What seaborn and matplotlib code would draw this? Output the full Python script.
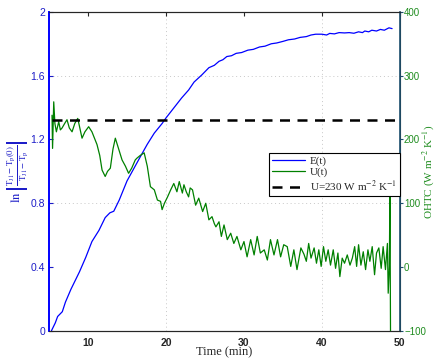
import matplotlib
matplotlib.use("Agg")
import matplotlib.pyplot as plt
import pandas as pd
import seaborn as sns
from matplotlib.lines import Line2D

# E(t), left axis
e_time = [5.3, 5.8, 6.1, 6.7, 7.1, 7.8, 8.4, 8.9, 9.7, 10.5, 11.4, 12.2, 12.8, 13.3,
          14.0, 15.0, 15.9, 16.8, 17.6, 18.5, 19.5, 20.0, 21.2, 22.0, 22.9, 23.6,
          24.6, 25.5, 26.2, 26.8, 27.3, 27.8, 28.4, 29.0, 29.7, 30.5, 31.2, 32.0,
          32.7, 33.5, 34.2, 35.0, 35.7, 36.5, 37.2, 38.0, 38.6, 39.2, 40.0, 40.6,
          41.0, 41.6, 42.2, 42.9, 43.5, 44.1, 44.7, 45.2, 45.5, 46.0, 46.4, 47.0,
          47.5, 48.0, 48.6, 49.0]
e_value = [0.0, 0.05, 0.09, 0.12, 0.18, 0.26, 0.32, 0.37, 0.46, 0.56, 0.63, 0.71, 0.74, 0.75,
           0.82, 0.94, 1.02, 1.10, 1.17, 1.24, 1.30, 1.335, 1.41, 1.46, 1.51, 1.56,
           1.605, 1.65, 1.665, 1.69, 1.70, 1.72, 1.725, 1.74, 1.745, 1.76, 1.765, 1.78,
           1.785, 1.80, 1.805, 1.815, 1.825, 1.83, 1.84, 1.845, 1.855, 1.86, 1.86, 1.855,
           1.865, 1.862, 1.87, 1.868, 1.87, 1.866, 1.875, 1.87, 1.88, 1.875, 1.885, 1.88,
           1.89, 1.885, 1.90, 1.895]

# U(t), right axis
u_time = [5.38, 5.45, 5.6, 5.75, 5.94, 6.24, 6.45, 6.67, 7.0, 7.3, 7.6, 7.95, 8.3, 8.68,
          9.0, 9.23, 9.6, 10.08, 10.5, 11.15, 11.5, 11.8, 12.2, 12.5, 12.86, 13.2,
          13.5, 13.9, 14.36, 14.8, 15.2, 15.6, 16.06, 16.3, 16.7, 17.2, 17.6, 18.0,
          18.5, 18.9, 19.3, 19.5, 19.8, 20.2, 20.6, 21.0, 21.4, 21.7, 22.1, 22.3,
          22.6, 22.9, 23.1, 23.4, 23.8, 24.2, 24.7, 25.1, 25.5, 25.9, 26.2, 26.4,
          26.8, 27.1, 27.44, 27.86, 28.3, 28.7, 29.1, 29.6, 30.0, 30.4, 30.86, 31.3,
          31.7, 32.1, 32.6, 33.0, 33.4, 33.85, 34.3, 34.7, 35.1, 35.55, 36.0, 36.4,
          36.8, 37.3, 37.7, 38.0, 38.3, 38.6, 39.0, 39.3, 39.6, 39.9, 40.2, 40.5,
          40.8, 41.1, 41.45, 41.75, 42.05, 42.3, 42.6, 42.9, 43.25, 43.6, 43.9, 44.2,
          44.45, 44.7, 45.0, 45.3, 45.6, 45.9, 46.15, 46.45, 46.75, 47.0, 47.3, 47.6,
          47.85, 48.15, 48.4, 48.5, 48.65, 48.72, 48.8]
u_value = [238, 186, 259, 225, 212, 228, 215, 218, 225, 231, 218, 212, 225, 233,
           215, 202, 212, 220, 212, 192, 175, 152, 142, 150, 155, 185,
           202, 186, 168, 158, 147, 155, 168, 171, 175, 179, 158, 126,
           121, 105, 103, 90, 100, 110, 121, 131, 118, 134, 116, 129,
           118, 110, 124, 121, 97, 108, 87, 100, 74, 79, 68, 63,
           71, 48, 66, 43, 53, 37, 48, 27, 40, 16, 43, 19,
           48, 22, 27, 11, 43, 19, 43, 16, 35, 32, 1, 27,
           -4, 30, 20, 9, 37, 14, 30, 6, 27, 1, 32, 9,
           27, 3, 27, -2, 22, -15, 14, 6, 19, 3, 14, 32,
           1, 35, 3, 24, -4, 27, 9, 32, -12, 22, 30, -2,
           32, -4, 37, -41, 1, 125, -110]

u_ref = 230

e_df = pd.DataFrame({"Time": e_time, "E": e_value})
u_df = pd.DataFrame({"Time": u_time, "U": u_value})

sns.set_style("white")
plt.rcParams["font.family"] = ["Liberation Sans", "DejaVu Sans"]
plt.rcParams["mathtext.fontset"] = "stix"
plt.rcParams["axes.grid"] = False
plt.rcParams["grid.alpha"] = 0.0

blue = "#0000ff"
green = "#008000"
tick_blue = "#1c1cc8"
tick_green = "#1e8c1e"
dark = "#1d4f6e"

fig = plt.figure(figsize=(4.38, 3.6), dpi=100)
ax1 = fig.add_axes([0.112, 0.081, 0.801, 0.886])
ax2 = ax1.twinx()

# Left axis
sns.lineplot(e_df, x="Time", y="E", ax=ax1, color=blue, linewidth=0.9,
             estimator=None, sort=False)
ax1.set_xlim(5, 50)
ax1.set_ylim(0, 2)
ax1.set_xticks([10, 20, 30, 40, 50])
ax1.set_yticks([0, 0.4, 0.8, 1.2, 1.6, 2])
ax1.set_yticklabels(["0", "0.4", "0.8", "1.2", "1.6", "2"])
ax1.tick_params(axis="x", direction="in", length=3, labelsize=7.5, pad=5, top=True)
ax1.tick_params(axis="y", direction="in", length=3, labelsize=7.5, labelcolor=tick_blue,
                color=tick_blue, pad=3)
for lab in ax1.get_xticklabels():
    lab.set_fontweight("bold")
ax1.set_xlabel("Time (min)", family="Liberation Serif", fontsize=9, labelpad=-1)
ax1.set_ylabel(r"$\ln\left|\frac{\mathrm{T_{J1}-T_p(0)}}{\mathrm{T_{J1}-T_p}}\right|$",
               color=tick_blue, fontsize=9)
ax1.yaxis.set_label_coords(-0.052, 0.5)
ax1.spines["left"].set_color(blue)
ax1.spines["left"].set_linewidth(1.2)

# Right axis
sns.lineplot(u_df, x="Time", y="U", ax=ax2, color=green, linewidth=0.9,
             estimator=None, sort=False)
ax2.axhline(u_ref, xmin=0.007, xmax=1.0, color="black", linestyle=(0, (4, 3)),
            linewidth=1.8)
ax2.set_ylim(-100, 400)
ax2.set_yticks([-100, 0, 100, 200, 300, 400])
ax2.set_yticklabels(["\u2212100", "0", "100", "200", "300", "400"])
ax2.tick_params(axis="y", direction="out", length=2, labelsize=7, labelcolor=tick_green,
                color=dark, pad=1)
ax2.set_ylabel(r"OHTC (W m$^{-2}$ K$^{-1}$)", family="Liberation Serif", color=tick_green,
               fontsize=8)
ax2.yaxis.set_label_coords(1.058, 0.5)
ax2.spines["right"].set_color(dark)
ax2.spines["right"].set_linewidth(1.2)
ax2.spines["left"].set_color(blue)
ax2.spines["left"].set_linewidth(1.2)

# dotted grid on every other tick only
for ax in (ax1, ax2):
    ax.grid(False, which="both")
for xv in [20, 40]:
    ax1.axvline(xv, color="#c8c8c8", linestyle=(0, (1, 3)), linewidth=0.7, zorder=0)
for yv in [0.8, 1.6]:
    ax1.axhline(yv, color="#c8c8c8", linestyle=(0, (1, 3)), linewidth=0.7, zorder=0)

handles = [
    Line2D([], [], color=blue, linewidth=0.9),
    Line2D([], [], color=green, linewidth=0.9),
    Line2D([], [], color="black", linestyle=(0, (4, 3)), linewidth=1.8),
]
labels = ["E(t)", "U(t)", r"U=230 W m$^{-2}$ K$^{-1}$"]
leg = ax2.legend(handles, labels, loc="upper left", bbox_to_anchor=(0.61, 0.575),
                 frameon=True, fancybox=False, edgecolor="black", framealpha=1,
                 prop={"family": "Liberation Serif", "size": 8},
                 handlelength=3.0, handletextpad=0.4, borderpad=0.3, labelspacing=0.1)
leg.get_frame().set_linewidth(0.8)

fig.savefig("out.png", dpi=100)
